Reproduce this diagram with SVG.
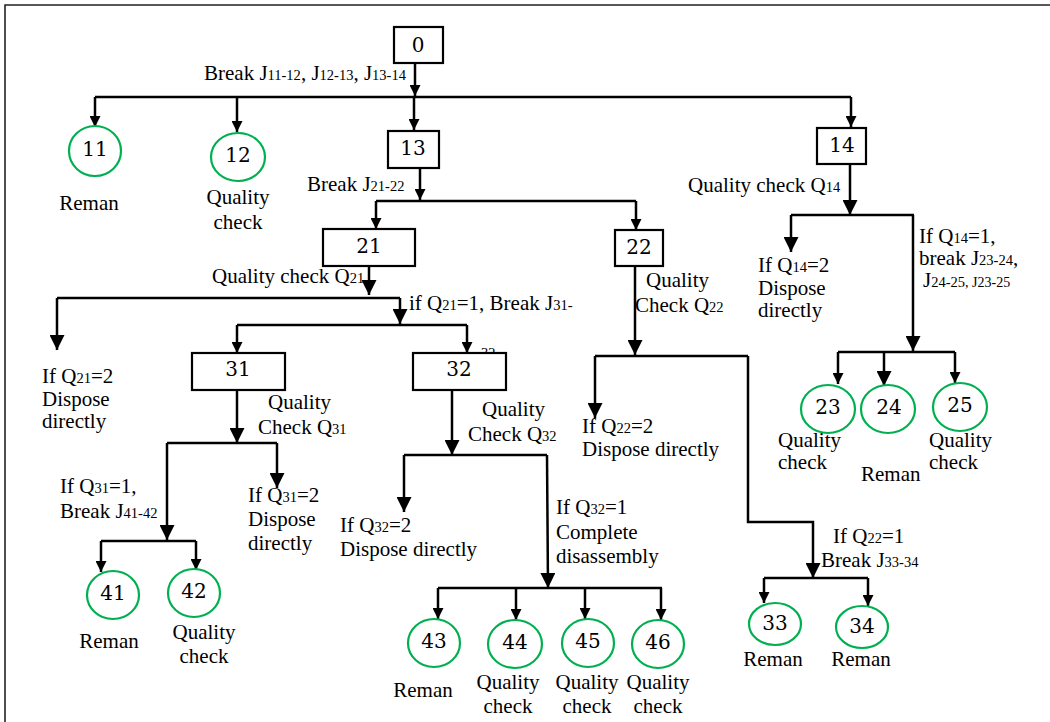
<svg xmlns="http://www.w3.org/2000/svg" width="1050" height="722" viewBox="0 0 1050 722">
  <style>
    .frame { fill: none; stroke: #222; stroke-width: 1.6; }
    .box { fill: #fff; stroke: #000; stroke-width: 2.2; }
    .circ { fill: #fff; stroke: #00B050; stroke-width: 2.2; }
    .num { font-family: "DejaVu Serif", "Liberation Serif", serif; font-size: 20px; fill: #000; text-anchor: middle; }
    .lbl { font-family: "Liberation Serif", "Times New Roman", serif; font-size: 21px; fill: #000; }
    .mid { text-anchor: middle; }
    .sub { font-size: 14.5px; }
    .tiny { font-size: 14px; }
    .ln { fill: none; stroke: #000; stroke-width: 2.5; }
    .sa { marker-end: url(#arrowS); }
    .la { marker-end: url(#arrowL); }
  </style>
  <defs>
    <marker id="arrowS" viewBox="0 0 10 10" refX="10" refY="5" markerUnits="userSpaceOnUse" markerWidth="12" markerHeight="11" orient="auto">
      <path d="M0,0 L10,5 L0,10 z" fill="#000"/>
    </marker>
    <marker id="arrowL" viewBox="0 0 10 10" refX="10" refY="5" markerUnits="userSpaceOnUse" markerWidth="15" markerHeight="15" orient="auto">
      <path d="M0,0 L10,5 L0,10 z" fill="#000"/>
    </marker>
  </defs>

  <rect width="1050" height="722" fill="#fff"/>
  <path class="frame" d="M5,722 V5 H1050"/>

  <!-- wrapped tail of the J31-32 subscript, mostly covered by box 32 -->
  <text class="lbl sub" x="481" y="358">32</text>

  <g id="connectors">
    <!-- root -->
    <path class="ln sa" d="M415,63 V96"/>
    <path class="ln" d="M95,97 H851"/>
    <path class="ln sa" d="M95,97 V127"/>
    <path class="ln sa" d="M237,97 V132"/>
    <path class="ln sa" d="M414,97 V130"/>
    <path class="ln sa" d="M851,97 V127"/>
    <!-- 13 -->
    <path class="ln sa" d="M420,168 V200"/>
    <path class="ln" d="M376,201 H636"/>
    <path class="ln sa" d="M376,201 V229"/>
    <path class="ln sa" d="M636,201 V230"/>
    <!-- 14 -->
    <path class="ln la" d="M850,164 V215"/>
    <path class="ln" d="M791,215 H914"/>
    <path class="ln la" d="M791,215 V252"/>
    <path class="ln la" d="M913,215 V351"/>
    <path class="ln" d="M838,352 H955"/>
    <path class="ln sa" d="M838,352 V384"/>
    <path class="ln la" d="M884,352 V386"/>
    <path class="ln sa" d="M955,352 V383"/>
    <!-- 21 -->
    <path class="ln la" d="M369,266 V295"/>
    <path class="ln" d="M57,298 H400"/>
    <path class="ln la" d="M57,298 V350"/>
    <path class="ln la" d="M400,298 V324"/>
    <path class="ln" d="M237,325 H467"/>
    <path class="ln sa" d="M237,325 V353"/>
    <path class="ln sa" d="M467,325 V353"/>
    <!-- 31 -->
    <path class="ln la" d="M237,390 V443"/>
    <path class="ln" d="M167,443 H277"/>
    <path class="ln la" d="M277,443 V488"/>
    <path class="ln la" d="M167,443 V540"/>
    <path class="ln" d="M101,541 H196"/>
    <path class="ln sa" d="M101,541 V572"/>
    <path class="ln sa" d="M196,541 V570"/>
    <!-- 32 -->
    <path class="ln la" d="M452,390 V455"/>
    <path class="ln" d="M404,455 H547"/>
    <path class="ln la" d="M404,455 V512"/>
    <path class="ln la" d="M547,455 L548,588"/>
    <path class="ln" d="M438,588 H662"/>
    <path class="ln sa" d="M438,588 V619"/>
    <path class="ln sa" d="M516,588 V620"/>
    <path class="ln sa" d="M585,588 V619"/>
    <path class="ln sa" d="M661,588 V620"/>
    <!-- 22 -->
    <path class="ln la" d="M635,266 V355"/>
    <path class="ln" d="M595,356 H748"/>
    <path class="ln la" d="M595,356 V418"/>
    <path class="ln la" d="M748,356 V522 H813 V578"/>
    <path class="ln" d="M764,578 H868"/>
    <path class="ln sa" d="M764,578 V603"/>
    <path class="ln sa" d="M868,578 V606"/>
  </g>

  <g id="edge-labels">
    <text class="lbl" x="204" y="80">Break J<tspan class="sub">11-12</tspan>, J<tspan class="sub">12-13</tspan>, J<tspan class="sub">13-14</tspan></text>
    <text class="lbl" x="307" y="191">Break J<tspan class="sub">21-22</tspan></text>
    <text class="lbl" x="688" y="192">Quality check Q<tspan class="sub">14</tspan></text>
    <text class="lbl" x="758" y="272">If Q<tspan class="sub">14</tspan>=2</text>
    <text class="lbl" x="758" y="295">Dispose</text>
    <text class="lbl" x="758" y="317">directly</text>
    <text class="lbl" x="919" y="243">If Q<tspan class="sub">14</tspan>=1,</text>
    <text class="lbl" x="919" y="265">break J<tspan class="sub">23-24</tspan>,</text>
    <text class="lbl" x="923" y="287">J<tspan class="sub">24-25</tspan><tspan class="tiny">, J23-25</tspan></text>
    <text class="lbl" x="212" y="283">Quality check Q<tspan class="sub">21</tspan></text>
    <text class="lbl" x="409" y="310">if Q<tspan class="sub">21</tspan>=1, Break J<tspan class="sub">31-</tspan></text>
    <text class="lbl" x="42" y="383">If Q<tspan class="sub">21</tspan>=2</text>
    <text class="lbl" x="42" y="406">Dispose</text>
    <text class="lbl" x="42" y="428">directly</text>
    <text class="lbl" x="646" y="287">Quality</text>
    <text class="lbl" x="635" y="312">Check Q<tspan class="sub">22</tspan></text>
    <text class="lbl" x="268" y="409">Quality</text>
    <text class="lbl" x="258" y="434">Check Q<tspan class="sub">31</tspan></text>
    <text class="lbl" x="482" y="416">Quality</text>
    <text class="lbl" x="468" y="441">Check Q<tspan class="sub">32</tspan></text>
    <text class="lbl" x="582" y="433" font-size="20">If Q<tspan class="sub">22</tspan>=2</text>
    <text class="lbl" x="582" y="456" font-size="20">Dispose directly</text>
    <text class="lbl" x="60" y="493">If Q<tspan class="sub">31</tspan>=1,</text>
    <text class="lbl" x="60" y="518">Break J<tspan class="sub">41-42</tspan></text>
    <text class="lbl" x="248" y="502">If Q<tspan class="sub">31</tspan>=2</text>
    <text class="lbl" x="248" y="526">Dispose</text>
    <text class="lbl" x="248" y="550">directly</text>
    <text class="lbl" x="340" y="532">If Q<tspan class="sub">32</tspan>=2</text>
    <text class="lbl" x="340" y="556">Dispose directly</text>
    <text class="lbl" x="556" y="514">If Q<tspan class="sub">32</tspan>=1</text>
    <text class="lbl" x="556" y="539">Complete</text>
    <text class="lbl" x="556" y="563">disassembly</text>
    <text class="lbl" x="833" y="543">If Q<tspan class="sub">22</tspan>=1</text>
    <text class="lbl" x="821" y="567">Break J<tspan class="sub">33-34</tspan></text>
  </g>

  <g id="node-0"><rect class="box" x="394" y="27" width="49" height="36"/><text class="num" x="418" y="52">0</text></g>
  <g id="node-13"><rect class="box" x="388" y="131" width="51" height="37"/><text class="num" x="413" y="155">13</text></g>
  <g id="node-14"><rect class="box" x="817" y="128" width="49" height="36"/><text class="num" x="842" y="152">14</text></g>
  <g id="node-21"><rect class="box" x="323" y="229" width="92" height="37"/><text class="num" x="369" y="253">21</text></g>
  <g id="node-22"><rect class="box" x="615" y="230" width="48" height="36"/><text class="num" x="639" y="254">22</text></g>
  <g id="node-31"><rect class="box" x="192" y="353" width="93" height="37"/><text class="num" x="238" y="376">31</text></g>
  <g id="node-32"><rect class="box" x="413" y="353" width="93" height="37"/><text class="num" x="459" y="376">32</text></g>

  <g id="node-11"><ellipse class="circ" cx="95" cy="151" rx="26" ry="25"/><text class="num" x="95" y="156">11</text><text class="lbl mid" x="89" y="210">Reman</text></g>
  <g id="node-12"><ellipse class="circ" cx="238" cy="157" rx="27" ry="24"/><text class="num" x="238" y="162">12</text><text class="lbl mid" x="238" y="204">Quality</text><text class="lbl mid" x="238" y="229">check</text></g>
  <g id="node-23"><ellipse class="circ" cx="828" cy="409" rx="27" ry="24"/><text class="num" x="828" y="414">23</text><text class="lbl" x="778" y="447">Quality</text><text class="lbl" x="778" y="469">check</text></g>
  <g id="node-24"><ellipse class="circ" cx="888" cy="409" rx="27" ry="24"/><text class="num" x="889" y="414">24</text><text class="lbl" x="861" y="481">Reman</text></g>
  <g id="node-25"><ellipse class="circ" cx="960" cy="407" rx="27" ry="24"/><text class="num" x="960" y="412">25</text><text class="lbl" x="929" y="447">Quality</text><text class="lbl" x="929" y="469">check</text></g>
  <g id="node-41"><ellipse class="circ" cx="113" cy="595" rx="26" ry="24"/><text class="num" x="113" y="600">41</text><text class="lbl mid" x="109" y="648">Reman</text></g>
  <g id="node-42"><ellipse class="circ" cx="194" cy="593" rx="26" ry="24"/><text class="num" x="194" y="598">42</text><text class="lbl mid" x="204" y="639">Quality</text><text class="lbl mid" x="204" y="663">check</text></g>
  <g id="node-43"><ellipse class="circ" cx="434" cy="643" rx="26" ry="24"/><text class="num" x="434" y="648">43</text><text class="lbl mid" x="423" y="697">Reman</text></g>
  <g id="node-44"><ellipse class="circ" cx="515" cy="644" rx="27" ry="24"/><text class="num" x="515" y="649">44</text><text class="lbl mid" x="508" y="689">Quality</text><text class="lbl mid" x="508" y="713">check</text></g>
  <g id="node-45"><ellipse class="circ" cx="588" cy="643" rx="26" ry="24"/><text class="num" x="588" y="648">45</text><text class="lbl mid" x="587" y="689">Quality</text><text class="lbl mid" x="587" y="713">check</text></g>
  <g id="node-46"><ellipse class="circ" cx="658" cy="644" rx="26" ry="24"/><text class="num" x="658" y="649">46</text><text class="lbl mid" x="658" y="689">Quality</text><text class="lbl mid" x="658" y="713">check</text></g>
  <g id="node-33"><ellipse class="circ" cx="775" cy="624" rx="26" ry="21"/><text class="num" x="775" y="630">33</text><text class="lbl mid" x="773" y="666">Reman</text></g>
  <g id="node-34"><ellipse class="circ" cx="862" cy="627" rx="26" ry="21"/><text class="num" x="862" y="633">34</text><text class="lbl mid" x="861" y="666">Reman</text></g>
</svg>
